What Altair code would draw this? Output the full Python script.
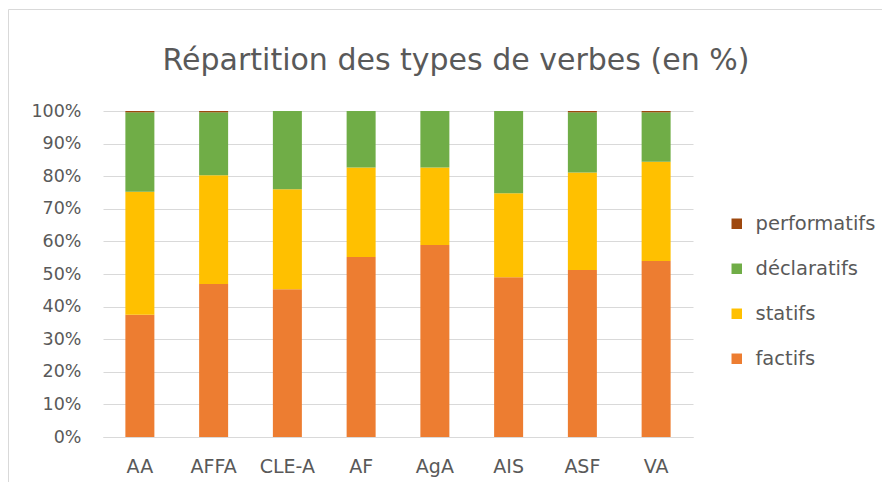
import altair as alt
import pandas as pd

categories = ["AA", "AFFA", "CLE-A", "AF", "AgA", "AIS", "ASF", "VA"]
factifs = [37.5, 46.9, 45.3, 55.2, 58.9, 49.0, 51.2, 54.0]
statifs = [37.7, 33.4, 30.7, 27.5, 23.8, 25.8, 29.9, 30.4]
declaratifs = [24.4, 19.3, 24.0, 17.3, 17.3, 25.2, 18.5, 15.2]
performatifs = [0.4, 0.4, 0.0, 0.0, 0.0, 0.0, 0.4, 0.4]

series = ["factifs", "statifs", "déclaratifs", "performatifs"]
colors = ["#ED7D31", "#FFC000", "#70AD47", "#9E480E"]
values = [factifs, statifs, declaratifs, performatifs]

rows = []
for si, (name, vals) in enumerate(zip(series, values)):
    for c, v in zip(categories, vals):
        rows.append({"cat": c, "type": name, "val": v / 100.0, "ord": si})
df = pd.DataFrame(rows)

FONT = "DejaVu Sans"
GREY = "#595959"

bars = alt.Chart(df).mark_bar(size=29).encode(
    x=alt.X("cat:N", sort=categories, title=None,
            scale=alt.Scale(paddingInner=0.6, paddingOuter=0.3),
            axis=alt.Axis(labelAngle=0, labelFontSize=19, labelColor=GREY,
                          labelFont=FONT, ticks=False, domain=True,
                          domainColor="#D9D9D9", labelPadding=20)),
    y=alt.Y("val:Q", stack="zero", title=None,
            scale=alt.Scale(domain=[0, 1], nice=False),
            axis=alt.Axis(format="%", values=[i / 10 for i in range(11)],
                          labelFontSize=17.5, labelColor=GREY, labelFont=FONT,
                          ticks=False, domain=False, gridColor="#D9D9D9",
                          gridWidth=1, labelPadding=22)),
    color=alt.Color("type:N",
                    scale=alt.Scale(domain=series[::-1], range=colors[::-1]),
                    legend=alt.Legend(title=None, orient="none", legendX=624,
                                      legendY=103, symbolType="square",
                                      symbolSize=110, labelFontSize=19.5,
                                      labelFont=FONT, labelColor=GREY,
                                      labelOffset=9, rowPadding=24,
                                      symbolStrokeWidth=0)),
    order=alt.Order("ord:Q", sort="ascending"),
)

border = alt.Chart(pd.DataFrame({"a": [0]})).mark_rect(
    fill=None, stroke="#D9D9D9", strokeWidth=1, clip=False
).encode(x=alt.value(-94.5), x2=alt.value(800), y=alt.value(-101.5), y2=alt.value(371.5))

chart = alt.layer(border, bars).properties(
    width=590, height=326,
    autosize=alt.AutoSizeParams(type="none"),
    padding={"left": 95, "top": 103, "right": 189, "bottom": 45},
    title=alt.TitleParams("Répartition des types de verbes (en %)", fontSize=30,
                          font=FONT, fontWeight="normal", color=GREY,
                          anchor="middle", dx=58, offset=-67),
).configure_view(stroke=None)

chart.save("out.html", embed_options={"renderer": "svg", "actions": False})
